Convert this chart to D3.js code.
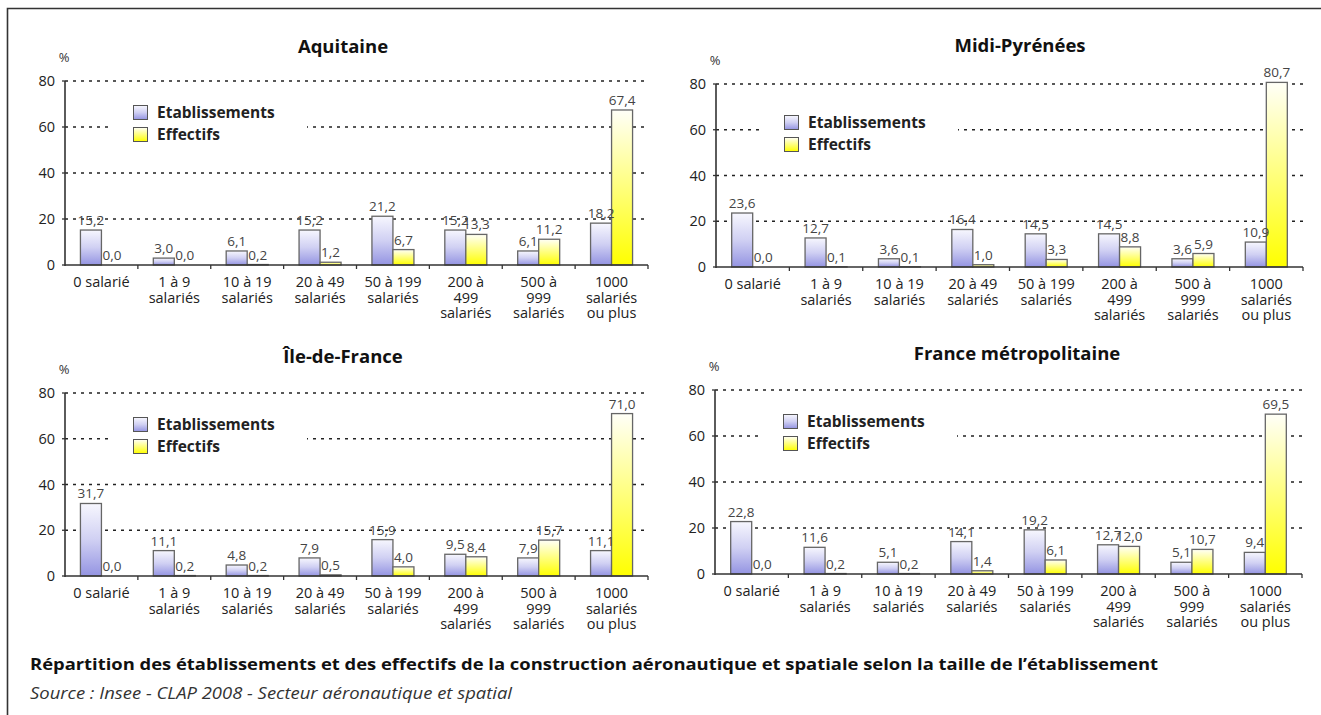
<!DOCTYPE html>
<html><head><meta charset="utf-8">
<script src="https://cdn.jsdelivr.net/npm/d3@7"></script>
<style>
body{margin:0;background:#fff}
svg{display:block}
text{font-family:"Open Sans",Lato,sans-serif}
</style>
</head><body>
<svg id="c" width="1321" height="715"></svg>
<script>
// ---------- data ----------
const categories = ["0 salarié", "1 à 9\nsalariés", "10 à 19\nsalariés", "20 à 49\nsalariés",
  "50 à 199\nsalariés", "200 à\n499\nsalariés", "500 à\n999\nsalariés", "1000\nsalariés\nou plus"];
const seriesNames = ["Etablissements", "Effectifs"];
const yTicks = [0, 20, 40, 60, 80];
const regionNames = ["Aquitaine", "Midi-Pyrénées", "Île-de-France", "France métropolitaine"];

const etabAquitaine = [15.2, 3.0, 6.1, 15.2, 21.2, 15.2, 6.1, 18.2];
const effAquitaine  = [0.0, 0.0, 0.2, 1.2, 6.7, 13.3, 11.2, 67.4];
const etabMidiPyrenees = [23.6, 12.7, 3.6, 16.4, 14.5, 14.5, 3.6, 10.9];
const effMidiPyrenees  = [0.0, 0.1, 0.1, 1.0, 3.3, 8.8, 5.9, 80.7];
const etabIDF = [31.7, 11.1, 4.8, 7.9, 15.9, 9.5, 7.9, 11.1];
const effIDF  = [0.0, 0.2, 0.2, 0.5, 4.0, 8.4, 15.7, 71.0];
const etabFrance = [22.8, 11.6, 5.1, 14.1, 19.2, 12.7, 5.1, 9.4];
const effFrance  = [0.0, 0.2, 0.2, 1.4, 6.1, 12.0, 10.7, 69.5];

const captionText = "Répartition des établissements et des effectifs de la construction aéronautique et spatiale selon la taille de l’établissement";
const sourceText = "Source : Insee - CLAP 2008 - Secteur aéronautique et spatial";

// ---------- layout ----------
const panels = [
  {title: regionNames[0], etab: etabAquitaine, eff: effAquitaine, x0: 65, x1: 648, yTop: 81, yBot: 265, titleX: 343, titleY: 53, legY: 105},
  {title: regionNames[1], etab: etabMidiPyrenees, eff: effMidiPyrenees, x0: 716, x1: 1303, yTop: 84, yBot: 267, titleX: 1020, titleY: 52, legY: 115},
  {title: regionNames[2], etab: etabIDF, eff: effIDF, x0: 65, x1: 648, yTop: 393, yBot: 576, titleX: 343, titleY: 363, legY: 417},
  {title: regionNames[3], etab: etabFrance, eff: effFrance, x0: 715, x1: 1302, yTop: 390, yBot: 574, titleX: 1017, titleY: 360, legY: 414}
];

const svg = d3.select("#c");
const defs = svg.append("defs");
function grad(id, stops) {
  const g = defs.append("linearGradient").attr("id", id).attr("x1", 0).attr("y1", 0).attr("x2", 0).attr("y2", 1);
  stops.forEach(s => g.append("stop").attr("offset", s[0]).attr("stop-color", s[1]));
}
grad("gEtab", [[0, "#f7f7fe"], [0.5, "#d0d0f3"], [1, "#9494e2"]]);
grad("gEff", [[0, "#fffff8"], [0.55, "#ffff70"], [1, "#ffff00"]]);
const fills = {"Etablissements": "url(#gEtab)", "Effectifs": "url(#gEff)"};
const fmt = v => v.toFixed(1).replace(".", ",");

// frame
svg.append("path").attr("d", "M7.5,715 V8.5 H1321").attr("fill", "none").attr("stroke", "#333").attr("stroke-width", 1.6);

panels.forEach(p => {
  const g = svg.append("g");
  const x = d3.scaleBand().domain(categories).range([p.x0, p.x1]);
  const bw = x.bandwidth();
  const xs = d3.scaleBand().domain(seriesNames).range([(bw - 42) / 2, (bw + 42) / 2]);
  const y = d3.scaleLinear().domain([0, 80]).range([p.yBot, p.yTop]);

  // title and %
  g.append("text").attr("x", p.titleX).attr("y", p.titleY).attr("text-anchor", "middle")
    .attr("font-weight", "bold").attr("font-size", 18.5).attr("fill", "#111").text(p.title);
  g.append("text").attr("x", p.x0 - 1).attr("y", p.yTop - 19).attr("text-anchor", "middle")
    .attr("font-size", 13).attr("fill", "#333").text("%");

  // grid
  g.selectAll(".grid").data(yTicks.filter(t => t > 0)).join("line")
    .attr("x1", p.x0).attr("x2", p.x1).attr("y1", d => y(d)).attr("y2", d => y(d))
    .attr("stroke", "#222").attr("stroke-width", 1.6).attr("stroke-dasharray", "3,5");

  // legend background
  g.append("rect").attr("x", p.x0 + 45).attr("y", p.legY - 8).attr("width", 197).attr("height", 45).attr("fill", "#fff");
  seriesNames.forEach((s, i) => {
    g.append("rect").attr("x", p.x0 + 68.5).attr("y", p.legY + i * 22 + 0.5).attr("width", 14).attr("height", 14)
      .attr("fill", fills[s]).attr("stroke", "#555").attr("stroke-width", 1);
    g.append("text").attr("x", p.x0 + 92).attr("y", p.legY + i * 22 + 13)
      .attr("font-weight", "bold").attr("font-size", 15.5).attr("fill", "#222").text(s);
  });

  // bars
  const rows = categories.map((c, i) => ({c, vals: [{s: seriesNames[0], v: p.etab[i]}, {s: seriesNames[1], v: p.eff[i]}]}));
  const cg = g.selectAll(".cat").data(rows).join("g").attr("transform", d => `translate(${x(d.c)},0)`);
  cg.selectAll("rect").data(d => d.vals).join("rect")
    .attr("x", d => xs(d.s)).attr("width", xs.bandwidth())
    .attr("y", d => y(d.v)).attr("height", d => y(0) - y(d.v))
    .attr("fill", d => fills[d.s]).attr("stroke", "#666").attr("stroke-width", 1.3);
  cg.selectAll("text").data(d => d.vals).join("text")
    .attr("x", d => xs(d.s) + xs.bandwidth() / 2).attr("y", d => y(d.v) - 5)
    .attr("text-anchor", "middle").attr("font-size", 13.5).attr("fill", "#444").text(d => fmt(d.v));

  // axes
  g.append("line").attr("x1", p.x0).attr("x2", p.x0).attr("y1", p.yTop).attr("y2", p.yBot + 1)
    .attr("stroke", "#333").attr("stroke-width", 1.6);
  g.append("line").attr("x1", p.x0).attr("x2", p.x1).attr("y1", p.yBot).attr("y2", p.yBot)
    .attr("stroke", "#333").attr("stroke-width", 1.6);
  const bounds = categories.map(c => x(c)).concat([p.x1]);
  g.selectAll(".xt").data(bounds.slice(1)).join("line")
    .attr("x1", d => d).attr("x2", d => d).attr("y1", p.yBot).attr("y2", p.yBot + 4)
    .attr("stroke", "#333").attr("stroke-width", 1.3);
  g.selectAll(".yt").data(yTicks).join("line")
    .attr("x1", p.x0 - 3).attr("x2", p.x0).attr("y1", d => y(d)).attr("y2", d => y(d))
    .attr("stroke", "#333").attr("stroke-width", 1.3);
  g.selectAll(".yl").data(yTicks).join("text")
    .attr("x", p.x0 - 10).attr("y", d => y(d)).attr("dy", "0.36em").attr("text-anchor", "end")
    .attr("font-size", 14.5).attr("fill", "#222").text(d => d);

  // category labels
  const lab = g.selectAll(".xl").data(categories).join("text")
    .attr("text-anchor", "middle").attr("font-size", 14.5).attr("fill", "#222");
  lab.each(function(c) {
    const t = d3.select(this);
    c.split("\n").forEach((line, i) => {
      t.append("tspan").attr("x", x(c) + bw / 2).attr("y", p.yBot + 22 + i * 15.5).text(line);
    });
  });
});

// caption & source
svg.append("text").attr("x", 30).attr("y", 670).attr("font-weight", "bold").attr("font-size", 16.5)
  .attr("fill", "#111").attr("textLength", 1128).attr("lengthAdjust", "spacingAndGlyphs").text(captionText);
svg.append("text").attr("x", 30).attr("y", 699).attr("font-style", "italic").attr("font-size", 15.5)
  .attr("fill", "#333").attr("textLength", 482).attr("lengthAdjust", "spacingAndGlyphs").text(sourceText);
</script>
</body></html>
